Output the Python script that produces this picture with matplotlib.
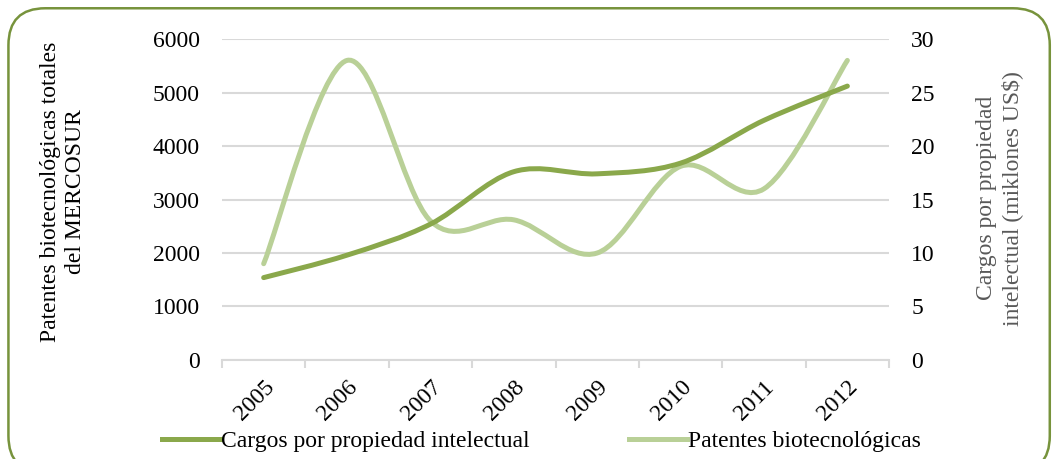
import numpy as np
import matplotlib
matplotlib.use("Agg")
import matplotlib.pyplot as plt
from matplotlib.path import Path
from matplotlib.patches import PathPatch, FancyBboxPatch
from matplotlib.lines import Line2D

# Data
years = ["2005", "2006", "2007", "2008", "2009", "2010", "2011", "2012"]
patentes = [1800, 5600, 2600, 2620, 2000, 3620, 3200, 5600]       # left axis
cargos = [7.7, 9.8, 12.7, 17.6, 17.4, 18.4, 22.4, 25.6]           # right axis (millones US$)

dark_green = "#8aa84b"
light_green = "#b9d097"
border_green = "#77933c"
grid_grey = "#d9d9d9"

plt.rcParams["font.family"] = ["Liberation Serif", "DejaVu Serif"]
fs = 17


def smooth_path(xs, ys):
    # Excel-like smoothed line: cubic Bezier segments (Catmull-Rom control points)
    pts = list(zip(xs, ys))
    verts = [pts[0]]
    codes = [Path.MOVETO]
    n = len(pts)
    for i in range(n - 1):
        p0 = pts[i - 1] if i > 0 else pts[i]
        p1 = pts[i]
        p2 = pts[i + 1]
        p3 = pts[i + 2] if i + 2 < n else pts[i + 1]
        c1 = (p1[0] + (p2[0] - p0[0]) / 6, p1[1] + (p2[1] - p0[1]) / 6)
        c2 = (p2[0] - (p3[0] - p1[0]) / 6, p2[1] - (p3[1] - p1[1]) / 6)
        verts += [c1, c2, p2]
        codes += [Path.CURVE4] * 3
    return Path(verts, codes)


fig = plt.figure(figsize=(10.54, 4.59), dpi=100)
ax = fig.add_axes([0.2106, 0.2157, 0.6329, 0.6993])
ax2 = ax.twinx()

x = np.arange(len(years))

ax.add_patch(PathPatch(smooth_path(x, patentes), facecolor="none",
                       edgecolor=light_green, lw=3.6, capstyle="round", zorder=3))
ax2.add_patch(PathPatch(smooth_path(x, cargos), facecolor="none",
                        edgecolor=dark_green, lw=3.6, capstyle="round", zorder=3))

ax.set_xlim(-0.5, len(years) - 0.5)
ax.set_ylim(0, 6000)
ax2.set_ylim(0, 30)
ax.set_yticks(range(0, 6001, 1000))
ax2.set_yticks(range(0, 31, 5))

ax.grid(axis="y", color=grid_grey, lw=1.5)
ax.set_axisbelow(True)

for a in (ax, ax2):
    for s in a.spines.values():
        s.set_visible(False)
ax.spines["bottom"].set_visible(True)
ax.spines["bottom"].set_color(grid_grey)
ax.spines["bottom"].set_linewidth(1.5)

ax.set_xticks(x)
ax.set_xticklabels(years, rotation=45, ha="right", va="top", rotation_mode="anchor")
ax.set_xticks(np.arange(-0.5, len(years)), minor=True)
ax.tick_params(axis="x", which="major", length=0, pad=12, labelsize=fs)
ax.tick_params(axis="x", which="minor", length=6, width=1.5, color=grid_grey, direction="out")
ax.tick_params(axis="y", length=0, pad=16, labelsize=fs)
ax2.tick_params(axis="y", length=0, pad=16, labelsize=fs)

fig.text(0.060, 0.582, "Patentes biotecnológicas totales\ndel MERCOSUR", fontsize=fs,
         rotation=90, ha="center", va="center", multialignment="center", linespacing=1.25)
fig.text(0.948, 0.568, "Cargos por propiedad\nintelectual (miklones US$)", fontsize=fs,
         color="#595959", rotation=90, ha="center", va="center", multialignment="center",
         linespacing=1.25)

handles = [Line2D([], [], color=dark_green, lw=3.6),
           Line2D([], [], color=light_green, lw=3.6)]
fig.legend(handles, ["Cargos por propiedad intelectual", "Patentes biotecnológicas"],
           loc="center", bbox_to_anchor=(0.514, 0.039), ncol=2, frameon=False,
           fontsize=fs, handlelength=2.45, handletextpad=0.05, columnspacing=4.2,
           borderpad=0)

border = FancyBboxPatch((0.008, -0.03), 0.988, 1.012, transform=fig.transFigure,
                        boxstyle="round,pad=0,rounding_size=0.035", mutation_aspect=2.3,
                        facecolor="none", edgecolor=border_green, lw=1.8, clip_on=False)
fig.patches.append(border)

fig.savefig("out.png", dpi=100)
